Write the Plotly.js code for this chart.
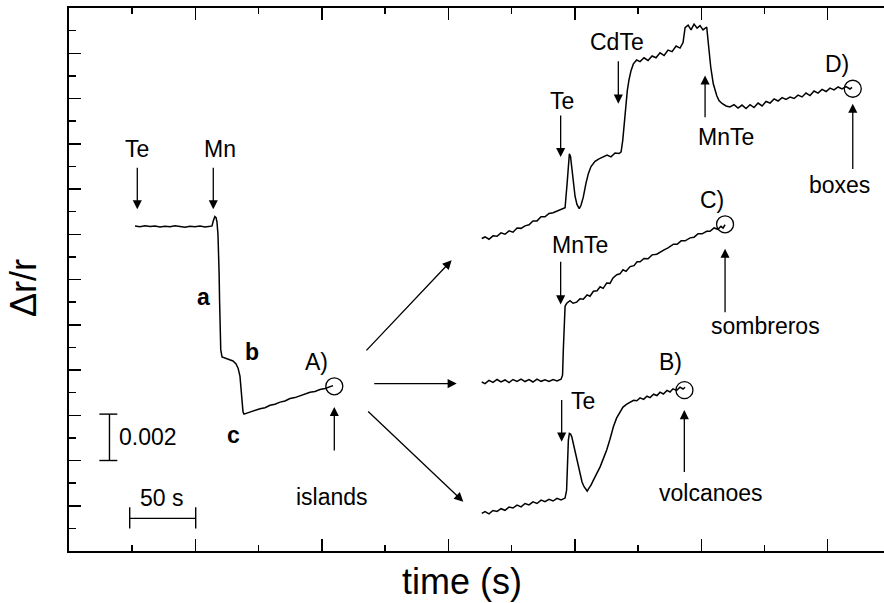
<!DOCTYPE html>
<html>
<head>
<meta charset="utf-8">
<script src="https://cdn.plot.ly/plotly-3.0.1.min.js"></script>
<style>html,body{margin:0;padding:0;background:#fff;overflow:hidden;}#chart{width:884px;height:603px;}</style>
</head>
<body>
<div id="chart"></div>
<script>
// time in s, signal in units of 1e-3 (Δr/r)
const timeA = [52.2, 56.1, 60.1, 64.1, 68.0, 72.0, 75.9, 79.9, 83.8, 87.8, 91.7, 95.7, 99.6, 103.6, 107.6, 111.5, 113.1, 113.9, 114.6, 115.3, 116.3, 117.0, 117.8, 118.3, 118.7, 119.1, 119.5, 120.0, 121.0, 124.2, 127.3, 129.7, 132.1, 133.7, 135.2, 136.0, 136.8, 137.6, 138.4, 140.0, 143.1, 147.1, 151.0, 155.0, 159.0, 162.9, 166.9, 170.8, 174.8, 178.7, 182.7, 186.6, 190.6, 194.5, 198.5, 202.5, 206.4, 208.8];
const signalA = [14.36, 14.33, 14.37, 14.34, 14.36, 14.32, 14.35, 14.33, 14.37, 14.34, 14.31, 14.35, 14.33, 14.36, 14.32, 14.35, 14.37, 14.55, 14.74, 14.78, 14.73, 14.55, 14.0, 13.3, 12.3, 11.0, 9.8, 8.9, 8.58, 8.51, 8.47, 8.40, 8.27, 8.08, 7.73, 7.15, 6.50, 6.15, 6.05, 6.08, 6.16, 6.21, 6.29, 6.33, 6.44, 6.49, 6.58, 6.63, 6.74, 6.78, 6.87, 6.93, 7.02, 7.05, 7.14, 7.18, 7.27, 7.31];

const timeB = [326.4, 329.0, 332.1, 335.3, 338.5, 341.6, 344.8, 348.0, 351.1, 354.3, 357.5, 360.6, 363.8, 366.9, 370.1, 373.3, 376.4, 379.6, 382.8, 385.9, 389.1, 392.3, 393.5, 394.1, 394.9, 395.7, 396.6, 397.6, 398.9, 400.2, 402.2, 404.1, 405.7, 407.3, 408.8, 409.8, 411.2, 412.8, 414.7, 417.2, 420.0, 422.4, 425.2, 427.8, 430.5, 433.0, 434.2, 435.7, 438.1, 441.1, 443.7, 446.5, 449.0, 451.6, 454.4, 457.1, 459.5, 462.3, 465.0, 467.4, 470.0, 472.9, 475.3, 477.6, 480.6, 483.2, 485.6, 487.2];
const signalB = [1.66, 1.74, 1.64, 1.79, 1.75, 1.87, 1.80, 1.94, 1.90, 2.03, 1.95, 2.10, 2.04, 2.17, 2.10, 2.25, 2.18, 2.28, 2.21, 2.33, 2.26, 2.34, 2.69, 3.72, 4.90, 5.20, 5.17, 5.05, 4.72, 4.31, 3.80, 3.36, 3.05, 2.84, 2.72, 2.65, 2.78, 2.91, 3.13, 3.40, 3.72, 4.06, 4.46, 4.94, 5.49, 5.87, 6.00, 6.15, 6.36, 6.49, 6.56, 6.66, 6.64, 6.77, 6.70, 6.84, 6.78, 6.93, 6.87, 7.02, 6.94, 7.10, 7.03, 7.17, 7.10, 7.24, 7.16, 7.24];

const timeC = [326.4, 329.0, 332.1, 335.3, 338.5, 341.6, 344.8, 348.0, 351.1, 354.3, 357.5, 360.6, 363.8, 366.9, 370.1, 373.3, 376.4, 379.6, 382.8, 385.9, 389.1, 390.3, 390.9, 391.5, 392.3, 393.6, 396.2, 398.6, 401.5, 404.1, 406.7, 409.7, 412.0, 414.7, 417.6, 420.0, 422.4, 425.2, 427.8, 430.2, 433.2, 435.7, 438.1, 440.5, 443.7, 446.8, 449.2, 451.6, 454.7, 457.9, 461.1, 464.8, 467.4, 470.6, 473.7, 478.0, 480.9, 484.1, 487.2, 491.2, 494.3, 497.5, 500.6, 504.3, 506.9, 510.1, 513.2, 515.6, 517.2, 518.8];
const signalC = [7.47, 7.40, 7.54, 7.45, 7.58, 7.47, 7.56, 7.44, 7.58, 7.50, 7.60, 7.49, 7.58, 7.47, 7.60, 7.50, 7.57, 7.49, 7.58, 7.52, 7.59, 7.77, 8.87, 10.20, 10.82, 10.95, 11.06, 10.95, 11.00, 11.15, 11.13, 11.32, 11.26, 11.48, 11.50, 11.68, 11.61, 11.84, 11.83, 12.07, 12.21, 12.25, 12.43, 12.36, 12.57, 12.61, 12.78, 12.78, 12.93, 12.92, 13.09, 13.12, 13.22, 13.31, 13.40, 13.56, 13.56, 13.71, 13.71, 13.84, 13.87, 14.02, 14.02, 14.13, 14.13, 14.28, 14.22, 14.35, 14.27, 14.42];

const timeD = [326.4, 329.0, 332.1, 335.3, 338.5, 341.6, 344.8, 348.0, 351.1, 354.3, 357.5, 360.6, 363.8, 366.9, 370.1, 373.3, 376.4, 379.6, 382.8, 385.9, 389.1, 392.3, 394.1, 394.9, 395.7, 396.6, 397.8, 399.0, 400.2, 401.7, 403.5, 404.9, 406.7, 408.8, 410.7, 412.8, 416.0, 419.1, 422.3, 425.5, 428.6, 431.8, 435.0, 436.6, 437.9, 438.9, 440.1, 441.5, 442.9, 444.5, 446.3, 448.9, 451.6, 454.7, 457.9, 461.1, 464.2, 467.4, 470.6, 473.7, 476.9, 480.1, 483.2, 485.6, 487.2, 489.6, 491.9, 494.3, 496.7, 499.0, 501.4, 504.3, 505.6, 507.5, 509.5, 512.2, 514.0, 516.4, 519.6, 522.7, 525.9, 529.1, 532.2, 535.4, 538.6, 541.7, 544.9, 548.1, 551.2, 554.4, 557.6, 560.7, 563.9, 567.0, 570.2, 573.4, 576.5, 579.7, 582.8, 586.0, 589.2, 592.3, 595.5, 598.7, 601.8, 605.0, 608.2, 611.3, 614.5, 617.6, 619.2];
const signalD = [13.81, 13.88, 13.78, 13.93, 13.91, 14.06, 14.00, 14.15, 14.09, 14.28, 14.26, 14.37, 14.42, 14.59, 14.59, 14.77, 14.77, 14.92, 14.95, 15.03, 15.08, 15.17, 16.38, 17.26, 17.56, 17.44, 16.91, 16.16, 15.67, 15.32, 15.13, 15.28, 15.64, 16.25, 16.68, 16.99, 17.22, 17.33, 17.40, 17.50, 17.42, 17.59, 17.57, 17.64, 18.15, 18.81, 19.65, 20.35, 20.84, 21.24, 21.53, 21.70, 21.63, 21.80, 21.68, 21.88, 21.80, 22.02, 21.90, 22.14, 22.07, 22.32, 22.23, 22.47, 23.13, 23.24, 23.03, 23.29, 23.11, 23.22, 23.03, 23.16, 22.43, 21.38, 20.65, 20.13, 19.91, 19.78, 19.67, 19.63, 19.73, 19.58, 19.71, 19.56, 19.73, 19.60, 19.80, 19.67, 19.87, 19.80, 19.98, 19.89, 20.04, 19.96, 20.06, 20.00, 20.15, 20.07, 20.24, 20.13, 20.33, 20.24, 20.40, 20.31, 20.46, 20.38, 20.51, 20.42, 20.53, 20.42, 20.49];

// end-of-growth markers (circled points)
const endTime = [209.8, 486.7, 518.8, 619.8];
const endSignal = [7.28, 7.11, 14.44, 20.43];

const FONT = 'Liberation Sans, Arial, sans-serif';
const lineStyle = {color: '#000', width: 1.5};
const traces = [
  {x: timeA, y: signalA, mode: 'lines', line: lineStyle, hoverinfo: 'skip'},
  {x: timeB, y: signalB, mode: 'lines', line: lineStyle, hoverinfo: 'skip'},
  {x: timeC, y: signalC, mode: 'lines', line: lineStyle, hoverinfo: 'skip'},
  {x: timeD, y: signalD, mode: 'lines', line: lineStyle, hoverinfo: 'skip'},
  {x: endTime, y: endSignal, mode: 'markers', hoverinfo: 'skip',
   marker: {symbol: 'circle-open', size: 17, color: '#000', line: {width: 1.3, color: '#000'}}},
  // empty helper traces: carry the axis-title axes (titles placed as in the original figure)
  {x: [], y: [], xaxis: 'x2', yaxis: 'y', mode: 'lines', hoverinfo: 'skip'},
  {x: [], y: [], xaxis: 'x', yaxis: 'y2', mode: 'lines', hoverinfo: 'skip'}
];

function lbl(x, y, text, bold) {
  return {x: x, y: y, xref: 'x', yref: 'y', text: bold ? '<b>' + text + '</b>' : text, showarrow: false,
          font: {family: FONT, size: 23, color: '#000'}, xanchor: 'center', yanchor: 'middle'};
}
function arr(x, y, ax, ay) {
  return {x: x, y: y, ax: ax, ay: ay, xref: 'x', yref: 'y', axref: 'x', ayref: 'y', text: '',
          showarrow: true, arrowhead: 2, arrowsize: 1.4, arrowwidth: 1.3, arrowcolor: '#000', standoff: 0, startstandoff: 0};
}

const annotations = [
  lbl(54.0, 17.75, 'Te'), arr(54.0, 15.10, 54.0, 17.01),
  lbl(119.5, 17.75, 'Mn'), arr(114.1, 15.10, 114.1, 17.01),
  lbl(106.0, 11.23, 'a', true), lbl(144.5, 8.80, 'b', true), lbl(129.9, 5.12, 'c', true),
  lbl(195.9, 8.36, 'A)'), lbl(208.0, 2.38, 'islands'), arr(209.8, 6.37, 209.8, 4.38),
  lbl(62.3, 5.05, '0.002'), lbl(73.3, 2.33, '50 s'),
  arr(302.6, 12.85, 234.1, 8.80), arr(306.6, 7.40, 240.2, 7.40), arr(311.8, 2.18, 235.4, 6.23),
  lbl(389.6, 19.91, 'Te'), arr(388.8, 17.41, 388.8, 19.32),
  lbl(433.1, 22.49, 'CdTe'), arr(434.4, 19.77, 434.4, 21.71),
  lbl(519.6, 18.29, 'MnTe'), arr(503.0, 21.02, 503.0, 19.10),
  lbl(607.1, 21.53, 'D)'), lbl(609.7, 16.16, 'boxes'), arr(619.8, 19.77, 619.8, 16.82),
  lbl(508.3, 15.50, 'C)'), lbl(404.1, 13.51, 'MnTe'), arr(388.8, 10.90, 388.8, 12.85),
  lbl(550.4, 9.93, 'sombreros'), arr(518.8, 13.36, 518.8, 10.49),
  lbl(475.3, 8.36, 'B)'), lbl(406.2, 6.64, 'Te'), arr(389.6, 4.83, 389.6, 6.74),
  lbl(507.5, 2.55, 'volcanoes'), arr(486.6, 6.23, 486.6, 3.43)
];

const bar = {type: 'line', xref: 'x', yref: 'y', line: {color: '#000', width: 1.4}};
const shapes = [
  Object.assign({}, bar, {x0: 32.0, x1: 32.0, y0: 4.0, y1: 6.05}),
  Object.assign({}, bar, {x0: 24.0, x1: 38.2, y0: 4.0, y1: 4.0}),
  Object.assign({}, bar, {x0: 24.0, x1: 38.2, y0: 6.05, y1: 6.05}),
  Object.assign({}, bar, {x0: 48.0, x1: 100.2, y0: 1.44, y1: 1.44}),
  Object.assign({}, bar, {x0: 48.0, x1: 48.0, y0: 1.0, y1: 1.93}),
  Object.assign({}, bar, {x0: 100.2, x1: 100.2, y0: 1.0, y1: 1.93})
];

const hiddenAxis = {showline: false, ticks: '', showticklabels: false, showgrid: false, zeroline: false, fixedrange: true, range: [0, 1]};

const layout = {
  width: 884, height: 603,
  margin: {l: 69, r: 0, t: 8, b: 52},
  paper_bgcolor: '#fff', plot_bgcolor: 'rgba(0,0,0,0)',
  showlegend: false,
  font: {family: FONT, color: '#000'},
  xaxis: {
    range: [0, 644.5], tick0: 0, dtick: 100, ticks: 'inside', ticklen: 12, tickwidth: 1.5, tickcolor: '#000',
    minor: {dtick: 50, ticks: 'inside', ticklen: 6, tickwidth: 1.5, tickcolor: '#000'},
    showline: true, linewidth: 2, linecolor: '#000', mirror: 'ticks',
    showticklabels: false, showgrid: false, zeroline: false, fixedrange: true
  },
  xaxis2: Object.assign({}, hiddenAxis, {domain: [0, 0.9644], anchor: 'y',
    title: {text: 'time (s)', font: {family: FONT, size: 36, color: '#000'}, standoff: 17}}),
  yaxis: {
    range: [0, 24], tick0: 0, dtick: 2, ticks: 'inside', ticklen: 12, tickwidth: 1.5, tickcolor: '#000',
    minor: {dtick: 1, ticks: 'inside', ticklen: 7, tickwidth: 1.5, tickcolor: '#000'},
    showline: true, linewidth: 2, linecolor: '#000', mirror: false,
    showticklabels: false, showgrid: false, zeroline: false, fixedrange: true
  },
  yaxis2: Object.assign({}, hiddenAxis, {domain: [0, 0.9687], anchor: 'x', side: 'left',
    title: {text: 'Δr/r', font: {family: FONT, size: 36, color: '#000'}, standoff: 20}}),
  annotations: annotations,
  shapes: shapes
};

Plotly.newPlot('chart', traces, layout, {displayModeBar: false, staticPlot: true});
</script>
</body>
</html>
